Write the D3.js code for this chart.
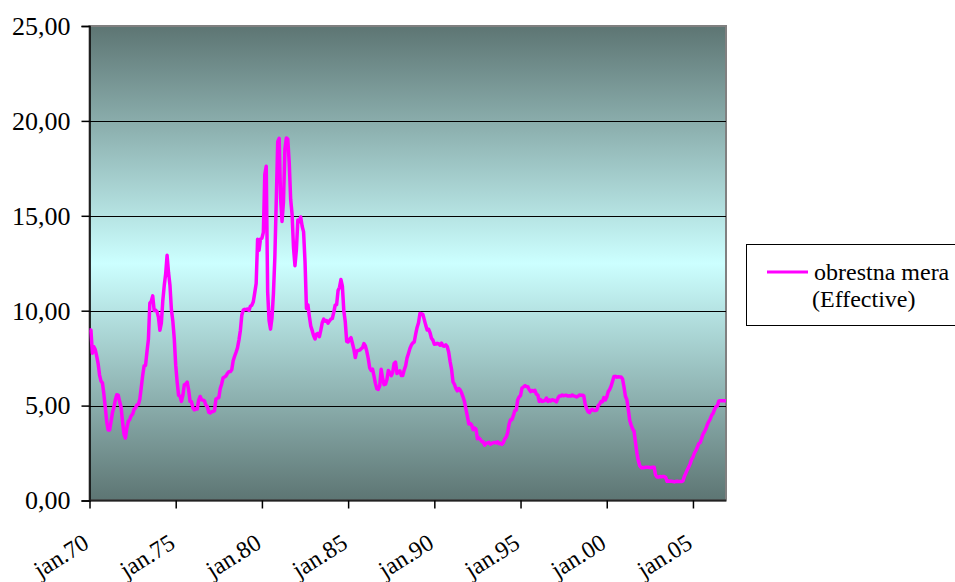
<!DOCTYPE html>
<html>
<head>
<meta charset="utf-8">
<script src="https://cdn.jsdelivr.net/npm/d3@7"></script>
<style>
  html, body { margin: 0; padding: 0; background: #ffffff; }
  svg { display: block; }
</style>
</head>
<body>
<svg id="chart" width="955" height="582"></svg>
<script>
// ---- DATA (monthly, Jan 1970 - Dec 2006) ----
const startYear = 1970;
const startMonth = 0;
const seriesName = ["obrestna mera", "(Effective)"];
const rates = [
  // 1970
  8.98, 8.98, 7.76, 8.10, 7.95, 7.61, 7.21, 6.61, 6.29, 6.20, 5.60, 4.90,
  // 1971
  4.14, 3.72, 3.71, 4.16, 4.63, 4.91, 5.31, 5.57, 5.55, 5.20, 4.91, 4.14,
  // 1972
  3.50, 3.29, 3.83, 4.17, 4.27, 4.46, 4.55, 4.80, 4.87, 5.04, 5.06, 5.33,
  // 1973
  5.94, 6.58, 7.09, 7.12, 7.84, 8.49, 10.40, 10.50, 10.78, 10.01, 10.03, 9.95,
  // 1974
  9.65, 8.97, 9.35, 10.51, 11.31, 11.93, 12.92, 12.01, 11.34, 10.06, 9.45, 8.53,
  // 1975
  7.13, 6.24, 5.54, 5.49, 5.22, 5.55, 6.10, 6.14, 6.24, 5.82, 5.22, 5.20,
  // 1976
  4.87, 4.77, 4.84, 4.82, 5.29, 5.48, 5.31, 5.29, 5.25, 5.02, 4.95, 4.65,
  // 1977
  4.61, 4.68, 4.69, 4.73, 5.35, 5.39, 5.42, 5.90, 6.14, 6.47, 6.51, 6.56,
  // 1978
  6.70, 6.78, 6.79, 6.89, 7.36, 7.60, 7.81, 8.04, 8.45, 8.96, 9.76, 10.03,
  // 1979
  10.07, 10.06, 10.09, 10.01, 10.24, 10.29, 10.47, 10.94, 11.43, 13.77, 13.18, 13.78,
  // 1980
  13.82, 14.13, 17.19, 17.61, 10.98, 9.47, 9.03, 9.61, 10.87, 12.81, 15.85, 18.90,
  // 1981
  19.08, 15.93, 14.70, 15.72, 18.52, 19.10, 19.04, 17.82, 15.87, 15.08, 13.31, 12.37,
  // 1982
  13.22, 14.78, 14.68, 14.94, 14.45, 14.15, 12.59, 10.12, 10.31, 9.71, 9.20, 8.95,
  // 1983
  8.68, 8.51, 8.77, 8.80, 8.63, 8.98, 9.37, 9.56, 9.45, 9.48, 9.34, 9.47,
  // 1984
  9.56, 9.59, 9.91, 10.29, 10.32, 11.06, 11.23, 11.64, 11.30, 9.99, 9.43, 8.38,
  // 1985
  8.35, 8.50, 8.58, 8.27, 7.97, 7.53, 7.88, 7.90, 7.92, 7.99, 8.05, 8.27,
  // 1986
  8.14, 7.86, 7.48, 6.99, 6.85, 6.92, 6.56, 6.17, 5.89, 5.85, 6.04, 6.91,
  // 1987
  6.43, 6.10, 6.13, 6.37, 6.85, 6.73, 6.58, 6.73, 7.22, 7.29, 6.69, 6.77,
  // 1988
  6.83, 6.58, 6.58, 6.87, 7.09, 7.51, 7.75, 8.01, 8.19, 8.30, 8.35, 8.76,
  // 1989
  9.12, 9.36, 9.85, 9.84, 9.81, 9.53, 9.24, 8.99, 9.02, 8.84, 8.55, 8.45,
  // 1990
  8.23, 8.24, 8.28, 8.26, 8.18, 8.29, 8.15, 8.13, 8.20, 8.11, 7.81, 7.31,
  // 1991
  6.91, 6.25, 6.12, 5.91, 5.78, 5.90, 5.82, 5.66, 5.45, 5.21, 4.81, 4.43,
  // 1992
  4.03, 4.06, 3.98, 3.73, 3.82, 3.76, 3.25, 3.30, 3.22, 3.10, 3.09, 2.92,
  // 1993
  3.02, 3.03, 3.07, 2.96, 3.00, 3.04, 3.06, 3.03, 3.09, 2.99, 3.02, 2.96,
  // 1994
  3.05, 3.25, 3.34, 3.56, 4.01, 4.25, 4.26, 4.47, 4.73, 4.76, 5.29, 5.45,
  // 1995
  5.53, 5.92, 5.98, 6.05, 6.01, 6.00, 5.85, 5.74, 5.80, 5.76, 5.80, 5.60,
  // 1996
  5.56, 5.22, 5.31, 5.22, 5.24, 5.27, 5.40, 5.22, 5.30, 5.24, 5.31, 5.29,
  // 1997
  5.25, 5.19, 5.39, 5.51, 5.50, 5.56, 5.52, 5.54, 5.54, 5.50, 5.52, 5.50,
  // 1998
  5.56, 5.51, 5.49, 5.45, 5.49, 5.56, 5.54, 5.55, 5.51, 5.07, 4.83, 4.68,
  // 1999
  4.63, 4.76, 4.81, 4.74, 4.74, 4.76, 4.99, 5.07, 5.22, 5.20, 5.42, 5.30,
  // 2000
  5.45, 5.73, 5.85, 6.02, 6.27, 6.53, 6.54, 6.50, 6.52, 6.51, 6.51, 6.40,
  // 2001
  5.98, 5.49, 5.31, 4.80, 4.21, 3.97, 3.77, 3.65, 3.07, 2.49, 2.09, 1.82,
  // 2002
  1.73, 1.74, 1.73, 1.75, 1.75, 1.75, 1.73, 1.74, 1.75, 1.75, 1.34, 1.24,
  // 2003
  1.24, 1.26, 1.25, 1.26, 1.26, 1.22, 1.01, 1.03, 1.01, 1.01, 1.00, 0.98,
  // 2004
  1.00, 1.01, 1.00, 1.00, 1.00, 1.03, 1.26, 1.43, 1.61, 1.76, 1.93, 2.16,
  // 2005
  2.28, 2.50, 2.63, 2.79, 3.00, 3.04, 3.26, 3.50, 3.62, 3.78, 4.00, 4.16,
  // 2006
  4.29, 4.49, 4.59, 4.79, 4.94, 4.99, 5.24, 5.25, 5.25, 5.25, 5.25, 5.24
];
const yTicks = [0, 5, 10, 15, 20, 25];
const xTickYears = [1970, 1975, 1980, 1985, 1990, 1995, 2000, 2005];

// ---- LAYOUT ----
const FONT = "'Liberation Serif', 'Times New Roman', serif";
const svg = d3.select("#chart");
const plot = { left: 89.5, right: 726, top: 26, bottom: 500.5 };

const data = rates.map((v, i) => ({ i, v }));
const x = d3.scaleLinear().domain([0, rates.length - 1]).range([plot.left, plot.right]);
const y = d3.scaleLinear().domain([0, 25]).range([plot.bottom, plot.top]);

// gradient background
const defs = svg.append("defs");
const grad = defs.append("linearGradient").attr("id", "bg")
  .attr("x1", 0).attr("y1", 0).attr("x2", 0).attr("y2", 1);
grad.append("stop").attr("offset", "0%").attr("stop-color", "#5d7573");
grad.append("stop").attr("offset", "50%").attr("stop-color", "#ccffff");
grad.append("stop").attr("offset", "100%").attr("stop-color", "#5d7573");

svg.append("rect")
  .attr("x", plot.left).attr("y", plot.top)
  .attr("width", plot.right - plot.left).attr("height", plot.bottom - plot.top)
  .attr("fill", "url(#bg)")
  .attr("stroke", "#808080").attr("stroke-width", 2);

// gridlines
svg.append("g").selectAll("line").data(yTicks.filter(d => d > 0 && d < 25)).join("line")
  .attr("x1", plot.left).attr("x2", plot.right)
  .attr("y1", d => Math.round(y(d)) + 0.5).attr("y2", d => Math.round(y(d)) + 0.5)
  .attr("stroke", "#000").attr("stroke-width", 1);

// y axis
const fmt = d => d3.format(".2f")(d).replace(".", ",");
const yAxis = d3.axisLeft(y).tickValues(yTicks).tickSize(8).tickPadding(11).tickFormat(fmt);
const gy = svg.append("g").attr("transform", `translate(${plot.left},0)`).call(yAxis);
gy.attr("font-family", FONT);
gy.select(".domain").attr("stroke", "#000").attr("stroke-width", 1.5);
gy.selectAll(".tick line").attr("stroke", "#000").attr("stroke-width", 1.5);
gy.selectAll("text").attr("font-family", FONT)
  .attr("font-size", 26).attr("fill", "#000");

// x axis
const tickIdx = xTickYears.map(yr => (yr - startYear) * 12 - startMonth);
const xAxis = d3.axisBottom(x).tickValues(tickIdx).tickSize(8).tickFormat("");
const gx = svg.append("g").attr("transform", `translate(0,${plot.bottom})`).call(xAxis);
gx.select(".domain").attr("stroke", "#222").attr("stroke-width", 2)
  .attr("d", `M${plot.left},0H${plot.right}`);
gx.selectAll(".tick line").attr("stroke", "#000").attr("stroke-width", 1.5);

svg.append("g").selectAll("text").data(xTickYears).join("text")
  .attr("transform", d => {
    const px = x((d - startYear) * 12 - startMonth) + 1;
    return `translate(${px},547) rotate(-32)`;
  })
  .attr("text-anchor", "end")
  .attr("font-family", FONT)
  .attr("font-size", 24)
  .attr("fill", "#000")
  .text(d => "jan." + String(d % 100).padStart(2, "0"));

// line
const line = d3.line().x(d => x(d.i)).y(d => y(d.v));
svg.append("path").datum(data)
  .attr("d", line)
  .attr("fill", "none")
  .attr("stroke", "#ff00ff")
  .attr("stroke-width", 3.5)
  .attr("stroke-linejoin", "round");

// legend
const lg = svg.append("g").attr("font-family", FONT);
lg.append("rect").attr("x", 746.5).attr("y", 244.5).attr("width", 240).attr("height", 81)
  .attr("fill", "#fff").attr("stroke", "#000").attr("stroke-width", 1);
lg.append("line").attr("x1", 767).attr("x2", 808).attr("y1", 272).attr("y2", 272)
  .attr("stroke", "#ff00ff").attr("stroke-width", 3);
lg.append("text").attr("x", 814).attr("y", 280).attr("font-size", 24).attr("fill", "#000").text(seriesName[0]);
lg.append("text").attr("x", 812).attr("y", 307).attr("font-size", 24).attr("fill", "#000").text(seriesName[1]);
</script>
</body>
</html>
